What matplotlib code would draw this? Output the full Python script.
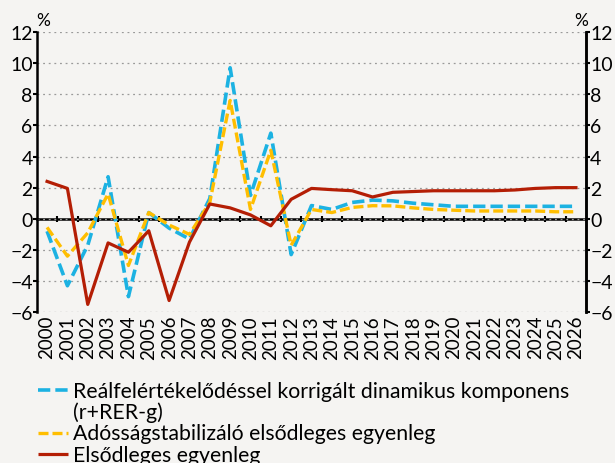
import matplotlib.pyplot as plt
from matplotlib.lines import Line2D
from matplotlib.ticker import MultipleLocator

years = [str(y) for y in range(2000, 2027)]
# Reálfelértékelődéssel korrigált dinamikus komponens (r+RER-g)
dyn_comp = [-0.8, -4.3, -1.7, 2.7, -5.0, 0.4, -0.6, -1.3, 1.3, 9.7, 1.5, 5.5, -2.3,
            0.85, 0.6, 1.05, 1.2, 1.15, 1.0, 0.9, 0.8, 0.8, 0.8, 0.8, 0.8, 0.8, 0.8]
# Adósságstabilizáló elsődleges egyenleg
stab_bal = [-0.55, -2.4, -0.9, 1.6, -3.0, 0.4, -0.4, -1.0, 1.05, 7.6, 0.6, 4.4, -1.7,
            0.6, 0.4, 0.73, 0.84, 0.83, 0.7, 0.6, 0.55, 0.5, 0.5, 0.5, 0.5, 0.45, 0.45]
# Elsődleges egyenleg
prim_bal = [2.4, 1.95, -5.5, -1.55, -2.15, -0.77, -5.25, -1.5, 0.95, 0.7, 0.25, -0.45, 1.25,
            1.95, 1.87, 1.8, 1.4, 1.7, 1.75, 1.8, 1.8, 1.8, 1.8, 1.85, 1.95, 2.0, 2.0]
labels = ['Reálfelértékelődéssel korrigált dinamikus komponens\n(r+RER-g)',
          'Adósságstabilizáló elsődleges egyenleg',
          'Elsődleges egyenleg']

bg = '#f5f4f2'
plt.rcParams['font.family'] = ['Lato', 'DejaVu Sans']

W, H = 615, 464
fig = plt.figure(figsize=(W / 100, H / 100), dpi=100, facecolor=bg)
ax = fig.add_axes([0.060, 0.325, 0.893, 0.604], facecolor=bg)
x = list(range(len(years)))

styles = [dict(color='#1cb2e2', lw=2.6, dashes=(3.4, 1.4), zorder=3),
          dict(color='#ffbe00', lw=2.4, dashes=(3.0, 1.2), zorder=4),
          dict(color='#b41e05', lw=2.3, zorder=5)]
for series, st in zip([dyn_comp, stab_bal, prim_bal], styles):
    ax.plot(x, series, **st)

ax.set_xlim(-0.5, len(years) - 0.5)
ax.set_ylim(-6, 12)
ax.yaxis.set_major_locator(MultipleLocator(2))
ax.grid(axis='y', color='#9a9a9a', ls=(0, (1.5, 3)), lw=0.9)
ax.set_axisbelow(True)
ax.set_xticks(x)
ax.set_xticklabels(years, rotation=90, fontsize=13.5)
ax.tick_params(axis='x', length=0, pad=2)
ax.tick_params(axis='y', labelsize=14, direction='out', length=3, width=1.5, pad=0)
for s in ['top', 'bottom']:
    ax.spines[s].set_visible(False)
ax.spines['left'].set_linewidth(1.8)
ax.spines['right'].set_linewidth(1.8)

# zero line with category boundary ticks
sec = ax.secondary_xaxis(1 / 3)
sec.set_xticks([i + 0.5 for i in x[:-1]])
sec.tick_params(length=4, width=1.5, direction='inout', labelbottom=False)
sec.spines['bottom'].set_linewidth(1.8)

ax2 = ax.twinx()
ax2.set_ylim(-6, 12)
ax2.yaxis.set_major_locator(MultipleLocator(2))
ax2.tick_params(axis='y', labelsize=14, direction='out', length=3, width=1.5, pad=0)
for s in ['top', 'bottom', 'left']:
    ax2.spines[s].set_visible(False)
ax2.spines['right'].set_linewidth(1.8)

fig.text(0.059, 0.945, '%', fontsize=12.5)
fig.text(0.933, 0.945, '%', fontsize=12.5)

# legend below the chart, one row per text line (baselines in pixels from top)
baseline = 397.5
step = 21.5
for lab, st in zip(labels, styles):
    st = {k: v for k, v in st.items() if k != 'zorder'}
    ymid = 1 - (baseline - 7) / H
    fig.add_artist(Line2D([38 / W, 68 / W], [ymid, ymid], transform=fig.transFigure,
                          solid_capstyle='butt', dash_capstyle='butt', **st))
    for part in lab.split('\n'):
        fig.text(73 / W, 1 - baseline / H, part, fontsize=15.3, va='baseline')
        baseline += step

fig.savefig('out.png', dpi=100, facecolor=bg)
